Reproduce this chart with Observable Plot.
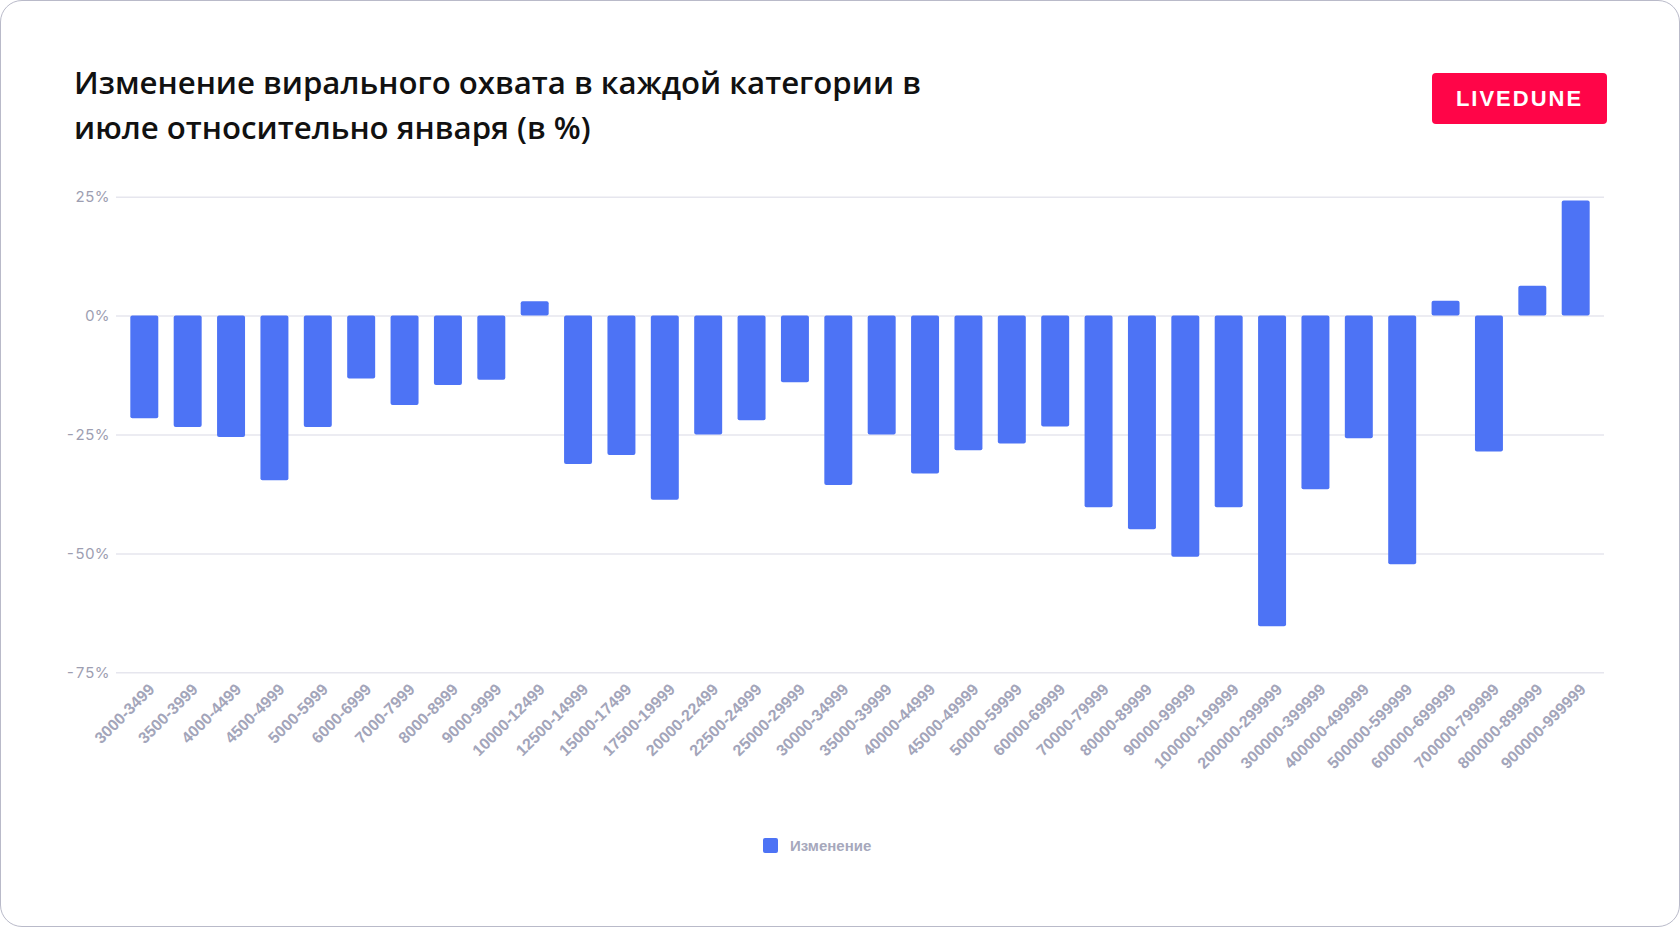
<!DOCTYPE html>
<html>
<head>
<meta charset="utf-8">
<script src="https://cdn.jsdelivr.net/npm/d3@7"></script>
<script src="https://cdn.jsdelivr.net/npm/@observablehq/plot@0.6"></script>
<style>
  html, body { margin: 0; padding: 0; background: #fff; }
  body { width: 1680px; height: 927px; position: relative; overflow: hidden; }
  .card { position: absolute; left: 0; top: 0; width: 1678px; height: 925px; border: 1px solid #b9bac9; border-radius: 22px; box-sizing: content-box; }
  .title { position: absolute; left: 74px; top: 60px; font-family: "Open Sans", sans-serif; font-weight: 600; font-size: 31.2px; line-height: 45px; color: #111; white-space: nowrap; }
  .badge { position: absolute; left: 1432px; top: 73px; width: 175px; height: 51px; background: #ff0548; border-radius: 4px; color: #fff; font-family: "Liberation Sans", Arial, sans-serif; font-weight: 700; font-size: 22px; letter-spacing: 2px; display: flex; align-items: center; justify-content: center; }
  #chart { position: absolute; left: 0; top: 150px; }
  .legend { position: absolute; left: 763px; top: 837px; display: flex; align-items: center; font-family: "Liberation Sans", Arial, sans-serif; font-weight: 700; font-size: 15px; color: #a6a8bc; }
  .legend .sw { width: 15px; height: 15px; background: #4d73f5; border-radius: 2px; margin-right: 12px; }
  #chart svg g[aria-label="y-axis tick label"] text { font-family: "Inter", sans-serif; font-size: 15px; fill: #9d9eb1; }
  #chart svg g[aria-label="x-axis tick label"] text { font-family: "Liberation Sans", Arial, sans-serif; font-weight: 700; font-size: 16px; fill: #a3a5ba; }
</style>
</head>
<body>
<div class="card"></div>
<div class="title">Изменение вирального охвата в каждой категории в<br>июле относительно января (в %)</div>
<div class="badge">LIVEDUNE</div>
<div id="chart"></div>
<div class="legend"><div class="sw"></div><span>Изменение</span></div>
<script>
const categories = [
  "3000-3499", "3500-3999", "4000-4499", "4500-4999", "5000-5999", "6000-6999",
  "7000-7999", "8000-8999", "9000-9999", "10000-12499", "12500-14999", "15000-17499",
  "17500-19999", "20000-22499", "22500-24999", "25000-29999", "30000-34999", "35000-39999",
  "40000-44999", "45000-49999", "50000-59999", "60000-69999", "70000-79999", "80000-89999",
  "90000-99999", "100000-199999", "200000-299999", "300000-399999", "400000-499999",
  "500000-599999", "600000-699999", "700000-799999", "800000-899999", "900000-999999"
];
const changes = [
  -21.6, -23.4, -25.5, -34.6, -23.4, -13.2,
  -18.8, -14.6, -13.5, 3.0, -31.2, -29.3,
  -38.7, -25.0, -22.0, -14.0, -35.6, -25.0,
  -33.2, -28.3, -26.9, -23.3, -40.3, -44.9,
  -50.7, -40.3, -65.3, -36.5, -25.8,
  -52.3, 3.1, -28.6, 6.3, 24.2
];
const yTicks = [25, 0, -25, -50, -75];
const seriesName = "Изменение";

const data = categories.map((c, i) => ({category: c, value: changes[i]}));

const chart = Plot.plot({
  width: 1680,
  height: 660,
  marginLeft: 116,
  marginRight: 76,
  marginTop: 46.7,
  marginBottom: 137.7,
  style: {background: "transparent"},
  x: {domain: categories, paddingInner: 0.355, paddingOuter: 0.33, round: false, label: null},
  y: {domain: [-75, 25], label: null},
  marks: [
    Plot.ruleY(yTicks, {stroke: "#e6e6ee", strokeWidth: 1.5}),
    Plot.barY(data, {x: "category", y: "value", fill: "#4d73f5", rx: 2}),
    Plot.axisY({ticks: yTicks, tickFormat: d => d + "%", tickSize: 0, tickPadding: 7, label: null}),
    Plot.axisX({tickRotate: -45, tickSize: 0, tickPadding: 14, dx: 7, label: null})
  ]
});
document.getElementById("chart").appendChild(chart);
</script>
</body>
</html>
